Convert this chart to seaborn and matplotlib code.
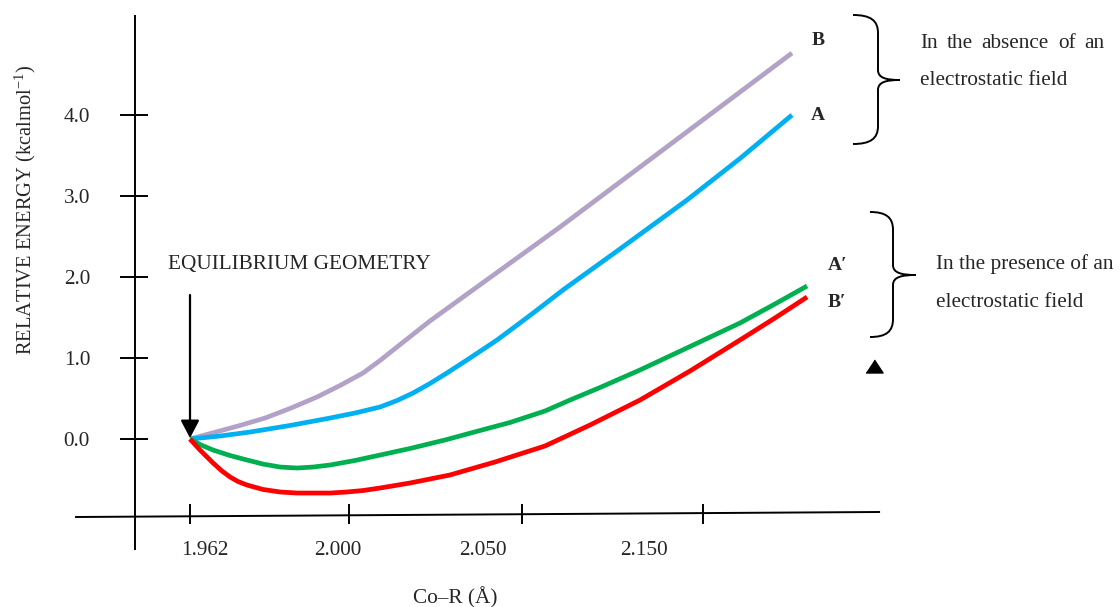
import matplotlib
matplotlib.use("Agg")
import matplotlib.pyplot as plt
import matplotlib.transforms as mtransforms
from matplotlib.path import Path
from matplotlib.patches import PathPatch
import pandas as pd
import seaborn as sns

# ---- potential energy scan along the Co–R coordinate (schematic distance units) ----
r_B = [0.000, 0.157, 0.314, 0.472, 0.629, 0.799, 0.943, 1.088, 1.195, 1.302,
       1.509, 1.805, 2.327, 2.956, 3.786]
e_B = [0.000, 0.083, 0.167, 0.259, 0.377, 0.519, 0.660, 0.815, 0.969, 1.136,
       1.457, 1.877, 2.617, 3.543, 4.765]

r_A = [0.000, 0.189, 0.377, 0.629, 0.881, 1.038, 1.195, 1.302, 1.403, 1.509,
       1.616, 1.761, 1.931, 2.138, 2.346, 2.704, 3.126, 3.459, 3.786]
e_A = [0.000, 0.037, 0.086, 0.167, 0.259, 0.321, 0.395, 0.475, 0.568, 0.685,
       0.815, 1.000, 1.222, 1.525, 1.840, 2.346, 2.951, 3.463, 4.000]

r_A2 = [0.000, 0.063, 0.145, 0.252, 0.358, 0.459, 0.566, 0.673, 0.774, 0.881,
        1.038, 1.195, 1.384, 1.604, 1.824, 2.013, 2.233, 2.390, 2.579, 2.830,
        3.145, 3.459, 3.679, 3.881]
e_A2 = [0.000, -0.068, -0.136, -0.204, -0.259, -0.309, -0.346, -0.358, -0.346, -0.321,
        -0.265, -0.198, -0.117, -0.012, 0.105, 0.204, 0.346, 0.481, 0.636, 0.852,
        1.142, 1.432, 1.667, 1.889]

r_B2 = [0.000, 0.063, 0.145, 0.201, 0.252, 0.302, 0.358, 0.459, 0.566, 0.673,
        0.774, 0.881, 0.987, 1.088, 1.195, 1.384, 1.635, 1.918, 2.233, 2.516,
        2.830, 3.145, 3.459, 3.679, 3.881]
e_B2 = [0.000, -0.136, -0.296, -0.395, -0.469, -0.525, -0.568, -0.623, -0.654, -0.667,
        -0.667, -0.667, -0.654, -0.636, -0.605, -0.543, -0.444, -0.284, -0.086, 0.173,
        0.481, 0.840, 1.222, 1.494, 1.753]

curve_names = ["B", "A", "A′", "B′"]
curve_colors = ["#B3A2C7", "#00B0F0", "#00B050", "#FF0000"]

x_tick_pos = [0.0, 1.0, 2.088, 3.226]
x_tick_labels = ["1.962", "2.000", "2.050", "2.150"]
x_label_pos = [0.094, 0.931, 1.843, 2.855]

y_ticks = [0.0, 1.0, 2.0, 3.0, 4.0]
y_tick_labels = ["0.0", "1.0", "2.0", "3.0", "4.0"]

df = pd.concat(
    [
        pd.DataFrame({"r": r, "energy": e, "curve": name})
        for name, r, e in zip(curve_names, [r_B, r_A, r_A2, r_B2], [e_B, e_A, e_A2, e_B2])
    ],
    ignore_index=True,
)

# ---- styling ----
sns.set_theme(style="white")
plt.rcParams["font.family"] = ["Liberation Serif", "DejaVu Serif"]
plt.rcParams["mathtext.fontset"] = "custom"
plt.rcParams["mathtext.rm"] = "Liberation Serif"
plt.rcParams["mathtext.it"] = "Liberation Serif:italic"
FS = 15.3

W, H = 1120, 607
fig = plt.figure(figsize=(W / 100, H / 100), dpi=100)
ax = fig.add_axes([0, 0, 1, 1])

# pixel-space transform for the side annotations
px = mtransforms.Affine2D().scale(1 / W, -1 / H).translate(0, 1) + fig.transFigure

# ---- energy curves ----
sns.lineplot(
    data=df, x="r", y="energy", hue="curve", hue_order=curve_names,
    palette=dict(zip(curve_names, curve_colors)), sort=False, estimator=None,
    linewidth=3.4, legend=False, ax=ax,
)
for line in ax.get_lines():
    line.set_solid_capstyle("butt")
    line.set_solid_joinstyle("round")
ax.set_xlim(-1.195, 5.849)
ax.set_ylim(-2.074, 5.420)
ax.set_axis_off()

# ---- hand-drawn style axes ----
ax.plot([-0.346, -0.346], [5.235, -1.370], color="black", lw=1.4, solid_capstyle="butt")
ax.plot([-0.723, 4.340], [-0.963, -0.901], color="black", lw=1.4, solid_capstyle="butt")
ax.hlines(y_ticks, -0.440, -0.264, color="black", lw=1.4)
ax.vlines(x_tick_pos, -1.049, -0.802, color="black", lw=1.4)

for v, lab in zip(y_ticks, y_tick_labels):
    ax.text(-0.629, v - 0.082, lab, ha="right", va="baseline", fontsize=FS)
for xp, lab in zip(x_label_pos, x_tick_labels):
    ax.text(xp, -1.432, lab, ha="center", va="baseline", fontsize=FS)

ax.text(1.667, -2.025, "Co–R (Å)", ha="center", va="baseline", fontsize=FS)
ax.text(-1.038, 2.827, r"RELATIVE ENERGY (kcalmol$^{-1}$)", rotation=90,
        ha="center", va="center", fontsize=14.8)

# curve labels
label_xy = {"B": (3.950, 4.864), "A": (3.950, 3.938), "A′": (4.013, 2.086), "B′": (4.013, 1.630)}
for name in curve_names:
    lx, ly = label_xy[name]
    ha = "center" if name in ("A", "B") else "left"
    ax.text(lx, ly, name, ha=ha, va="baseline", fontsize=14, fontweight="bold")

# equilibrium geometry marker
ax.text(-0.138, 2.099, "EQUILIBRIUM GEOMETRY", ha="left", va="baseline", fontsize=FS)
ax.annotate(
    "", xy=(0.0, 0.012), xytext=(0.0, 1.778),
    arrowprops=dict(arrowstyle="-|>,head_length=0.4,head_width=0.21", mutation_scale=27,
                    color="black", lw=1.6, shrinkA=0, shrinkB=0),
)


def brace(x0, xv, xt, y_top, y_mid, y_bot, r):
    """Right-facing curly brace in pixel space."""
    verts = [
        (x0, y_top),
        (x0 + 0.7 * (xv - x0), y_top), (xv, y_top + 0.3 * r), (xv, y_top + r),
        (xv, y_mid - 0.55 * r),
        (xv, y_mid - 0.1 * r), (xv + 0.4 * (xt - xv), y_mid), (xt, y_mid),
        (xv + 0.4 * (xt - xv), y_mid), (xv, y_mid + 0.1 * r), (xv, y_mid + 0.55 * r),
        (xv, y_bot - r),
        (xv, y_bot - 0.3 * r), (x0 + 0.7 * (xv - x0), y_bot), (x0, y_bot),
    ]
    codes = [Path.MOVETO,
             Path.CURVE4, Path.CURVE4, Path.CURVE4,
             Path.LINETO,
             Path.CURVE4, Path.CURVE4, Path.CURVE4,
             Path.CURVE4, Path.CURVE4, Path.CURVE4,
             Path.LINETO,
             Path.CURVE4, Path.CURVE4, Path.CURVE4]
    ax.add_patch(PathPatch(Path(verts, codes), fill=False, lw=1.4, edgecolor="black",
                           transform=px, capstyle="butt"))


brace(853, 878, 900, 15, 80, 144, 18)
brace(870, 893, 916, 212, 275, 337, 18)

# group descriptions (first line justified word by word)
for word, xw in zip(["In", "the", "absence", "of", "an"], [920, 946.6, 981.6, 1058.1, 1084.7]):
    ax.text(xw, 48, word, transform=px, ha="left", va="baseline", fontsize=FS)
ax.text(920, 85, "electrostatic field", transform=px, ha="left", va="baseline", fontsize=FS)
ax.text(936, 269, "In the presence of an", transform=px, ha="left", va="baseline", fontsize=FS)
ax.text(936, 307, "electrostatic field", transform=px, ha="left", va="baseline", fontsize=FS)

ax.plot([873.5], [365.5], transform=px, marker=[(-1, -0.76), (1, -0.76), (0, 0.76)],
        markersize=12.3, color="black", linestyle="none")

fig.savefig("out.png", dpi=100)
